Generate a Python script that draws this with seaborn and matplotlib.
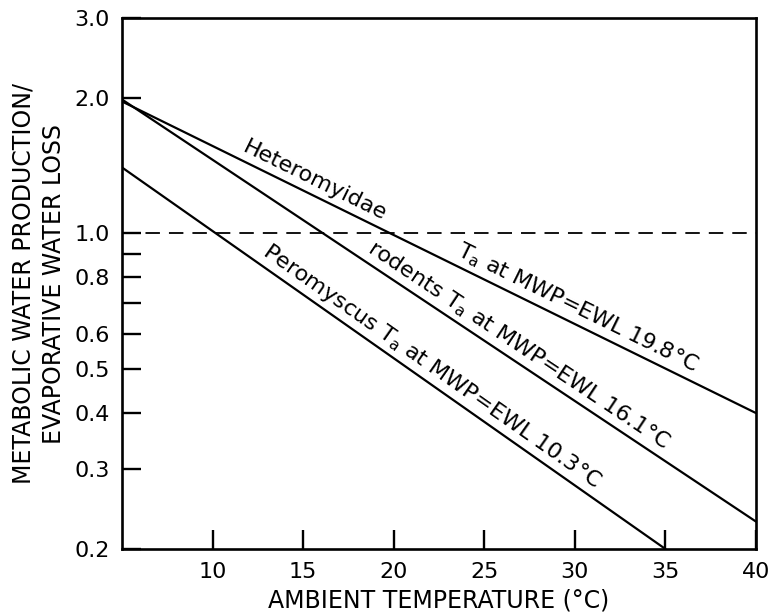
import matplotlib
matplotlib.use("Agg")
import matplotlib.pyplot as plt
import numpy as np
import pandas as pd
import seaborn as sns

# line end points (ambient temperature, ratio MWP/EWL)
groups = ['Heteromyidae', 'rodents', 'Peromyscus']
temp_start = [5, 5, 5]
temp_end = [40, 40, 35]
ratio_start = [1.96, 1.98, 1.40]
ratio_end = [0.40, 0.23, 0.20]

# labels drawn along each line
line_labels = [
    ('Heteromyidae', 11.4),
    (r'$\mathregular{T_a}$ at MWP=EWL 19.8°C', 23.2),
    (r'rodents $\mathregular{T_a}$ at MWP=EWL 16.1°C', 18.2),
    (r'Peromyscus $\mathregular{T_a}$ at MWP=EWL 10.3°C', 12.4),
]
label_group = [0, 0, 1, 2]

yticks = [0.2, 0.3, 0.4, 0.5, 0.6, 0.7, 0.8, 0.9, 1.0, 2.0, 3.0]
ytick_labels = ['0.2', '0.3', '0.4', '0.5', '0.6', '', '0.8', '', '1.0', '2.0', '3.0']
xticks = [10, 15, 20, 25, 30, 35, 40]

rows = []
for g, x0, x1, y0, y1 in zip(groups, temp_start, temp_end, ratio_start, ratio_end):
    rows.append({'group': g, 'temp': x0, 'ratio': y0})
    rows.append({'group': g, 'temp': x1, 'ratio': y1})
df = pd.DataFrame(rows)

sns.set_style('ticks')
plt.rcParams['font.family'] = ['DejaVu Sans']
plt.rcParams['text.color'] = 'black'
plt.rcParams['axes.labelcolor'] = 'black'

fig = plt.figure(figsize=(7.71, 6.16), dpi=100)
ax = fig.add_axes([122 / 771, 1 - 549 / 616, 634 / 771, 531 / 616])

sns.lineplot(data=df, x='temp', y='ratio', units='group', estimator=None,
             color='black', linewidth=1.6, ax=ax, legend=False)
ax.axhline(1.0, color='black', linewidth=1.3, dashes=(8, 5))

ax.set_yscale('log')
ax.set_xlim(5, 40)
ax.set_ylim(0.2, 3.0)
ax.set_yticks(yticks)
ax.set_yticklabels(ytick_labels)
ax.yaxis.set_minor_locator(matplotlib.ticker.NullLocator())
ax.set_xticks(xticks)
ax.set_xticklabels([str(t) for t in xticks])

for s in ax.spines.values():
    s.set_linewidth(1.9)
    s.set_color('black')
ax.tick_params(direction='in', length=14, width=1.7, labelsize=16, pad=9,
               colors='black')
ax.tick_params(axis='x', pad=9)

ax.set_xlabel('AMBIENT TEMPERATURE (°C)', fontsize=17, labelpad=5)
ax.set_ylabel('METABOLIC WATER PRODUCTION/\nEVAPORATIVE WATER LOSS', fontsize=17,
              linespacing=1.35)
ax.yaxis.set_label_coords(-0.088, 0.5)


def line_y(gi, x):
    lx = [temp_start[gi], temp_end[gi]]
    ly = np.log10([ratio_start[gi], ratio_end[gi]])
    return 10 ** np.interp(x, lx, ly)


for (txt, xs), gi in zip(line_labels, label_group):
    p1 = ax.transData.transform((temp_start[gi], ratio_start[gi]))
    p2 = ax.transData.transform((temp_end[gi], ratio_end[gi]))
    ang = np.degrees(np.arctan2(p2[1] - p1[1], p2[0] - p1[0]))
    d = 2.5
    off = (-np.sin(np.radians(ang)) * d, np.cos(np.radians(ang)) * d)
    ax.annotate(txt, xy=(xs, line_y(gi, xs)), xytext=off, textcoords='offset points',
                rotation=ang, rotation_mode='anchor', ha='left', va='bottom',
                fontsize=16)

fig.savefig('out.png', dpi=100)
